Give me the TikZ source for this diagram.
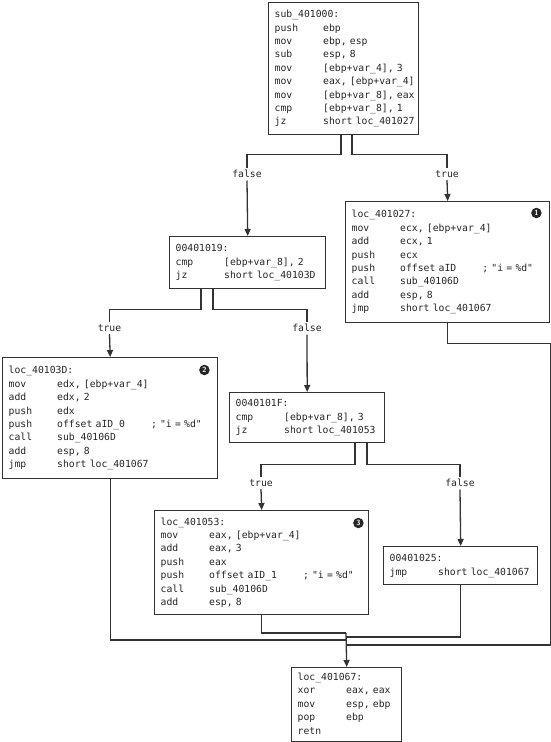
\documentclass[tikz,border=0pt]{standalone}
\usepackage{fontspec}
\setmonofont{DejaVu Sans Mono}
\usetikzlibrary{arrows.meta}
\newcommand\codefont{\ttfamily\fontsize{9.75}{13.4}\selectfont\spaceskip=\fontcharwd\font`\x\relax\xspaceskip=\spaceskip}
\newcommand\cl[1]{\mbox{#1}\strut}
\newcommand\ci[2]{\mbox{\makebox[48.5pt][l]{#1}#2}\strut}
\newcommand\cmt{\hspace{26pt}; "i = \%d"}
\begin{document}
\begin{tikzpicture}[x=1pt,y=-1pt,
  blk/.style={draw=black!80, line width=1.4pt, anchor=north west, inner xsep=6pt, inner ysep=0pt, align=left, font=\codefont, text=black!85},
  ln/.style={draw=black!80, line width=1.3pt},
  ar/.style={ln, -{Triangle[length=7pt,width=6pt]}},
  lbl/.style={font=\codefont, inner sep=2.5pt, text=black!85},
  badge/.style={circle, fill=black!85, text=white, inner sep=0pt, minimum size=10.5pt, font=\sffamily\bfseries\fontsize{7.5}{7.5}\selectfont}
]
\useasboundingbox (0,0) rectangle (550,742);

\node[blk, text width=138pt, minimum height=132pt] (b1) at (268,2) {%
\cl{sub\_401000:}\\
\ci{push}{ebp}\\
\ci{mov}{ebp, esp}\\
\ci{sub}{esp, 8}\\
\ci{mov}{[ebp+var\_4], 3}\\
\ci{mov}{eax, [ebp+var\_4]}\\
\ci{mov}{[ebp+var\_8], eax}\\
\ci{cmp}{[ebp+var\_8], 1}\\
\ci{jz}{short loc\_401027}};

\node[blk, text width=144pt, minimum height=52pt] (b2) at (169,236) {%
\cl{00401019:}\\
\ci{cmp}{[ebp+var\_8], 2}\\
\ci{jz}{short loc\_40103D}};

\node[blk, text width=192pt, minimum height=121pt] (b3) at (345,201) {%
\cl{loc\_401027:}\\
\ci{mov}{ecx, [ebp+var\_4]}\\
\ci{add}{ecx, 1}\\
\ci{push}{ecx}\\
\ci{push}{offset aID\cmt}\\
\ci{call}{sub\_40106D}\\
\ci{add}{esp, 8}\\
\ci{jmp}{short loc\_401067}};

\node[blk, text width=203pt, minimum height=121pt] (b4) at (2,357) {%
\cl{loc\_40103D:}\\
\ci{mov}{edx, [ebp+var\_4]}\\
\ci{add}{edx, 2}\\
\ci{push}{edx}\\
\ci{push}{offset aID\_0\cmt}\\
\ci{call}{sub\_40106D}\\
\ci{add}{esp, 8}\\
\ci{jmp}{short loc\_401067}};

\node[blk, text width=143pt, minimum height=50pt] (b5) at (229,392) {%
\cl{0040101F:}\\
\ci{cmp}{[ebp+var\_8], 3}\\
\ci{jz}{short loc\_401053}};

\node[blk, text width=202pt, minimum height=104pt] (b6) at (154,510) {%
\cl{loc\_401053:}\\
\ci{mov}{eax, [ebp+var\_4]}\\
\ci{add}{eax, 3}\\
\ci{push}{eax}\\
\ci{push}{offset aID\_1\cmt}\\
\ci{call}{sub\_40106D}\\
\ci{add}{esp, 8}};

\node[blk, text width=142pt, minimum height=38pt] (b7) at (383,546) {%
\cl{00401025:}\\
\ci{jmp}{short loc\_401067}};

\node[blk, text width=98pt, minimum height=74pt] (b8) at (291,667) {%
\cl{loc\_401067:}\\
\ci{xor}{eax, eax}\\
\ci{mov}{esp, ebp}\\
\ci{pop}{ebp}\\
\cl{retn}};

\node[badge] (n1) at ([xshift=-14pt,yshift=-12pt]b3.north east) {1};
\node[badge] (n2) at ([xshift=-14pt,yshift=-13pt]b4.north east) {2};
\node[badge] (n3) at ([xshift=-11pt,yshift=-13pt]b6.north east) {3};

\node[lbl] (f1) at (247,174) {false};
\node[lbl] (t1) at (447,174) {true};
\node[lbl] (t2) at (109.5,328) {true};
\node[lbl] (f2) at (307,328) {false};
\node[lbl] (t3) at (261,483) {true};
\node[lbl] (f3) at (460,483) {false};

\draw[ln] ([xshift=73pt]b1.south west) -- ++(0,19) -| (f1.north);
\draw[ar] (f1.south) -- (b2.north);
\draw[ln] ([xshift=84pt]b1.south west) -- ++(0,19) -| (t1.north);
\draw[ar] (t1.south) -- (b3.north);

\draw[ln] ([xshift=32pt]b2.south west) -- ++(0,20) -| (t2.north);
\draw[ar] (t2.south) -- (b4.north);
\draw[ln] ([xshift=44pt]b2.south west) -- ++(0,20) -| (f2.north);
\draw[ar] (f2.south) -- (b5.north);

\draw[ln] ([xshift=126pt]b5.south west) -- ++(0,21) -| (t3.north);
\draw[ar] (t3.south) -- (b6.north);
\draw[ln] ([xshift=138pt]b5.south west) -- ++(0,21) -| (f3.north);
\draw[ar] (f3.south) -- (b7.north);

\coordinate (m1) at (346,633);
\coordinate (m2) at (346,637);
\coordinate (m3) at (346,640);
\coordinate (m4) at (346,645);
\draw[ln] (b6.south) |- (m1);
\draw[ln] (b7.south) |- (m2);
\draw[ln] (b4.south) |- (m3);
\draw[ln] (b3.south) -- ++(0,20) -| (b3.east |- m4) -- (m4);
\draw[ar] (m1) -- (b8.north);
\end{tikzpicture}
\end{document}
